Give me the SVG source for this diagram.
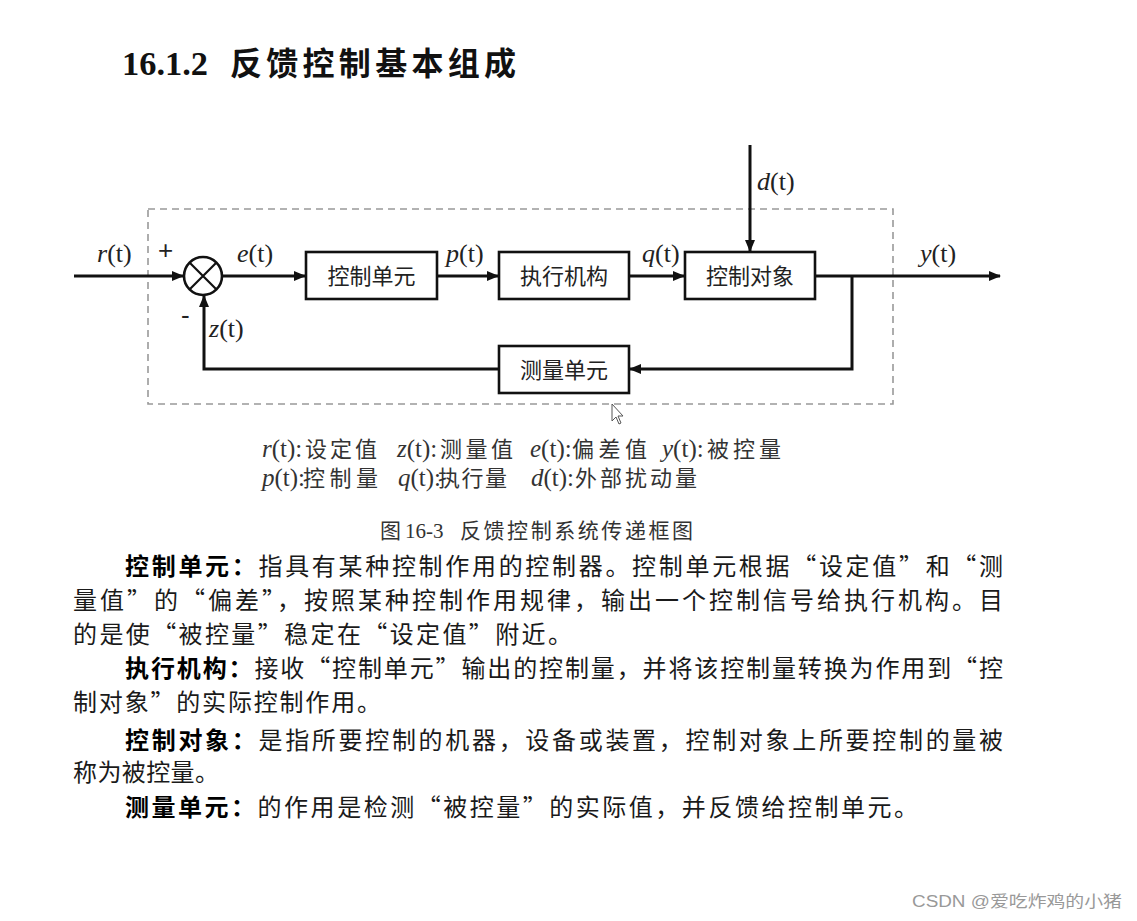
<svg xmlns="http://www.w3.org/2000/svg" width="1137" height="921" viewBox="0 0 1137 921">
<style>
.box{fill:#fff;stroke:#111;stroke-width:2.6}
.ln{fill:none;stroke:#111;stroke-width:3}
.lbl{font-family:"Liberation Serif","Noto Sans CJK SC",serif;font-size:26px;fill:#222}
.it{font-style:italic}
.cn{font-family:"Noto Sans CJK SC",sans-serif;font-size:22px;fill:#222}
.lat{font-family:"Liberation Serif",serif;font-size:25px;fill:#333}
.leg{font-family:"Noto Sans CJK SC",sans-serif;font-size:22px;fill:#333}
.body{font-family:"Noto Sans CJK SC",sans-serif;font-size:24px;fill:#1a1a1a}
.b{font-weight:bold;fill:#000}
</style>
<defs>
<marker id="ah" markerWidth="12" markerHeight="10" refX="11" refY="5" orient="auto" markerUnits="userSpaceOnUse">
<path d="M0,0 L12,5 L0,10 Z" fill="#111"/>
</marker>
</defs>
<rect width="1137" height="921" fill="#fff"/>
<g id="title">
<text x="122" y="75" font-family="Liberation Serif,serif" font-weight="bold" font-size="33" fill="#111" textLength="86" lengthAdjust="spacingAndGlyphs">16.1.2</text>
<text x="230" y="75" font-family="Noto Sans CJK SC,sans-serif" font-weight="bold" font-size="32" fill="#111" textLength="286" lengthAdjust="spacing">反馈控制基本组成</text>
</g>
<rect id="frame" x="148" y="209" width="745" height="195" fill="none" stroke="#999" stroke-width="1.6" stroke-dasharray="7,5"/>
<g id="connectors">
<path class="ln" d="M74,276 H183" marker-end="url(#ah)"/>
<path class="ln" d="M222,276 H305" marker-end="url(#ah)"/>
<path class="ln" d="M437,276 H498" marker-end="url(#ah)"/>
<path class="ln" d="M629,276 H684" marker-end="url(#ah)"/>
<path class="ln" d="M750,145 V251" marker-end="url(#ah)"/>
<path class="ln" d="M815,276 H1000" marker-end="url(#ah)"/>
<path class="ln" d="M852,276 V369 H630" marker-end="url(#ah)"/>
<path class="ln" d="M499,369 H204 V296" marker-end="url(#ah)"/>
</g>
<g id="sum">
<circle cx="203" cy="276" r="19" fill="#fff" stroke="#111" stroke-width="2.6"/>
<path d="M189.5,262.5 L216.5,289.5 M216.5,262.5 L189.5,289.5" stroke="#111" stroke-width="2.2"/>
<text x="158" y="259" font-family="Liberation Sans,sans-serif" font-size="26" fill="#222">+</text>
<text x="181" y="324" font-family="Liberation Sans,sans-serif" font-size="26" fill="#222">-</text>
</g>
<g id="ctrl"><rect class="box" x="306" y="252" width="131" height="47"/><text class="cn" x="371.5" y="284" text-anchor="middle">控制单元</text></g>
<g id="act"><rect class="box" x="499" y="252" width="130" height="47"/><text class="cn" x="564" y="284" text-anchor="middle">执行机构</text></g>
<g id="plant"><rect class="box" x="685" y="252" width="130" height="47"/><text class="cn" x="750" y="284" text-anchor="middle">控制对象</text></g>
<g id="meas"><rect class="box" x="499" y="346" width="130" height="47"/><text class="cn" x="564" y="378" text-anchor="middle">测量单元</text></g>
<g id="labels">
<text class="lbl" x="97" y="262"><tspan class="it">r</tspan>(t)</text>
<text class="lbl" x="237" y="262"><tspan class="it">e</tspan>(t)</text>
<text class="lbl" x="446" y="262"><tspan class="it">p</tspan>(t)</text>
<text class="lbl" x="642" y="262"><tspan class="it">q</tspan>(t)</text>
<text class="lbl" x="757" y="190"><tspan class="it">d</tspan>(t)</text>
<text class="lbl" x="920" y="262"><tspan class="it">y</tspan>(t)</text>
<text class="lbl" x="209" y="337"><tspan class="it">z</tspan>(t)</text>
</g>
<g id="legend">
<text class="lat" x="262" y="457"><tspan class="it">r</tspan>(t):</text><text class="leg" x="305" y="457" textLength="72" lengthAdjust="spacing">设定值</text>
<text class="lat" x="397" y="457"><tspan class="it">z</tspan>(t):</text><text class="leg" x="440" y="457" textLength="73" lengthAdjust="spacing">测量值</text>
<text class="lat" x="530" y="457"><tspan class="it">e</tspan>(t):</text><text class="leg" x="572" y="457" textLength="75" lengthAdjust="spacing">偏差值</text>
<text class="lat" x="662" y="457"><tspan class="it">y</tspan>(t):</text><text class="leg" x="707" y="457" textLength="74" lengthAdjust="spacing">被控量</text>
<text class="lat" x="262" y="486"><tspan class="it">p</tspan>(t):</text><text class="leg" x="303" y="486" textLength="75" lengthAdjust="spacing">控制量</text>
<text class="lat" x="398" y="486"><tspan class="it">q</tspan>(t):</text><text class="leg" x="438" y="486" textLength="69" lengthAdjust="spacing">执行量</text>
<text class="lat" x="531" y="486"><tspan class="it">d</tspan>(t):</text><text class="leg" x="575" y="486" textLength="122" lengthAdjust="spacing">外部扰动量</text>
</g>
<g id="caption" font-family="Liberation Serif,Noto Sans CJK SC,serif" font-size="21" fill="#333">
<text x="380" y="538">图</text>
<text x="405" y="538">16-3</text>
<text x="460" y="538" textLength="233" lengthAdjust="spacing">反馈控制系统传递框图</text>
</g>
<g id="text">
<text class="body" x="125" y="575" textLength="878" lengthAdjust="spacing"><tspan class="b">控制单元：</tspan>指具有某种控制作用的控制器。控制单元根据“设定值”和“测</text>
<text class="body" x="73" y="609" textLength="930" lengthAdjust="spacing">量值”的“偏差”，按照某种控制作用规律，输出一个控制信号给执行机构。目</text>
<text class="body" x="73" y="643" textLength="499" lengthAdjust="spacing">的是使“被控量”稳定在“设定值”附近。</text>
<text class="body" x="125" y="677" textLength="878" lengthAdjust="spacing"><tspan class="b">执行机构：</tspan>接收“控制单元”输出的控制量，并将该控制量转换为作用到“控</text>
<text class="body" x="73" y="711" textLength="308" lengthAdjust="spacing">制对象”的实际控制作用。</text>
<text class="body" x="125" y="749" textLength="878" lengthAdjust="spacing"><tspan class="b">控制对象：</tspan>是指所要控制的机器，设备或装置，控制对象上所要控制的量被</text>
<text class="body" x="73" y="781" textLength="146" lengthAdjust="spacing">称为被控量。</text>
<text class="body" x="125" y="816" textLength="793" lengthAdjust="spacing"><tspan class="b">测量单元：</tspan>的作用是检测“被控量”的实际值，并反馈给控制单元。</text>
</g>
<path id="cursor" d="M612,404 L612,421 L616,417 L619,424 L621,423 L618,416 L623,416 Z" fill="#fff" stroke="#555" stroke-width="1"/>
<text id="watermark" x="912" y="907" font-family="Liberation Sans,Noto Sans CJK SC,sans-serif" font-size="16" fill="#999" textLength="210" lengthAdjust="spacingAndGlyphs">CSDN @爱吃炸鸡的小猪</text>
</svg>
